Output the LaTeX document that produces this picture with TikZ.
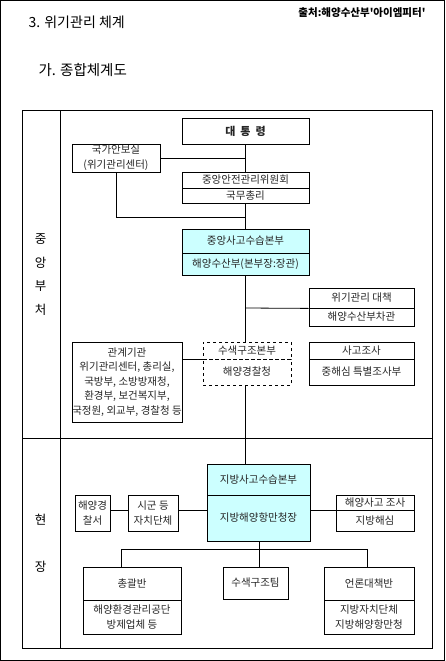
\documentclass[tikz,border=0pt]{standalone}
\usepackage{fontspec}
\newfontfamily\kr{Noto Sans CJK KR}
\usetikzlibrary{calc}
\definecolor{boxcyan}{HTML}{CCFFFF}
\tikzset{
  x=1pt,y=-1pt,
  every node/.style={font=\kr\fontsize{10.5}{12}\selectfont, text=black!85},
  bx/.style={draw=black, line width=0.8pt, inner sep=0pt, align=center},
  cy/.style={bx, fill=boxcyan},
  dbx/.style={bx, dashed},
  ln/.style={line width=0.8pt},
  side/.style={font=\kr\fontsize{12.5}{14}\selectfont, text=black},
}
\begin{document}
\begin{tikzpicture}
\useasboundingbox (0,0) rectangle (445,661);
% frames
\draw[ln] (0.5,0.5) rectangle (444.5,660.5);
\draw[ln] (22,110) rectangle (432,648);
\draw[ln] (60,110) -- (60,648);
\draw[ln] (22,438.7) -- (432,438.7);
% titles
\node[anchor=west, font=\kr\fontsize{14}{16}\selectfont, text=black] (t1) at (25,22.5) {3. 위기관리 체계};
\node[anchor=west, font=\kr\fontsize{14.5}{16}\selectfont, text=black] (t2) at (35,70) {가. 종합체계도};
\node[anchor=east, font=\kr\bfseries\fontsize{10.5}{12}\selectfont, text=black] (src) at (429,12.5) {출처:해양수산부'아이엠피터'};
% side labels
\node[side] (s1) at (40.5,239) {중};
\node[side] (s2) at (40.5,263) {앙};
\node[side] (s3) at (40.5,286) {부};
\node[side] (s4) at (40.5,310) {처};
\node[side] (s5) at (40.5,520) {현};
\node[side] (s6) at (40.5,567) {장};
% central boxes
\node[bx, minimum width=127, minimum height=26, font=\kr\bfseries\fontsize{11}{12}\selectfont] (pres) at (245.5,131) {대\ \ 통\ \ 령};
\node[bx, minimum width=88, minimum height=28, font=\kr\fontsize{10.5}{15}\selectfont] (nsc) at (116,158) {국가안보실\\(위기관리센터)};
\node[bx, minimum width=127, minimum height=16] (cscmT) at (245.5,180) {중앙안전관리위원회};
\node[bx, minimum width=127, minimum height=15] (cscmB) at (245.5,195.5) {국무총리};
\node[cy, minimum width=127, minimum height=24] (cdschT) at (245.5,241) {중앙사고수습본부};
\node[cy, minimum width=127, minimum height=22] (cdschB) at (245.5,264) {해양수산부(본부장:장관)};
\node[bx, minimum width=105, minimum height=20] (crisT) at (361.5,298) {위기관리\ 대책};
\node[bx, minimum width=105, minimum height=18] (crisB) at (361.5,317) {해양수산부차관};
\node[bx, minimum width=110, minimum height=80, font=\kr\fontsize{10.5}{14.4}\selectfont] (rel) at (127,382) {관계기관\\위기관리센터, 총리실,\\국방부, 소방방재청,\\환경부, 보건복지부,\\국정원, 외교부, 경찰청 등};
\node[dbx, minimum width=88, minimum height=17] (sarT) at (247,350.5) {수색구조본부};
\node[dbx, minimum width=88, minimum height=26] (sarB) at (247,372) {해양경찰청};
\node[bx, minimum width=105, minimum height=17] (invT) at (361.5,350.5) {사고조사};
\node[bx, minimum width=105, minimum height=26] (invB) at (361.5,372) {중해심\ 특별조사부};
% field boxes
\node[cy, minimum width=103, minimum height=31] (rdschT) at (258.5,479.5) {지방사고수습본부};
\node[cy, minimum width=103, minimum height=46] (rdschB) at (258.5,518) {지방해양항만청장};
\node[bx, minimum width=35, minimum height=36, font=\kr\fontsize{10.5}{15}\selectfont] (kcg) at (92.5,513) {해양경\\찰서};
\node[bx, minimum width=50, minimum height=36, font=\kr\fontsize{10.5}{15}\selectfont] (local) at (153,513) {시군\ 등\\자치단체};
\node[bx, minimum width=78, minimum height=15] (minvT) at (375,502.5) {해양사고\ 조사};
\node[bx, minimum width=78, minimum height=21] (minvB) at (375,520.5) {지방해심};
\node[bx, minimum width=98, minimum height=33] (genT) at (132,583.5) {총괄반};
\node[bx, minimum width=98, minimum height=34, font=\kr\fontsize{10.5}{14.5}\selectfont] (genB) at (132,617) {해양환경관리공단\\방제업체\ 등};
\node[bx, minimum width=65, minimum height=32] (srt) at (255.5,583) {수색구조팀};
\node[bx, minimum width=90, minimum height=33] (pressT) at (369,583.5) {언론대책반};
\node[bx, minimum width=90, minimum height=34, font=\kr\fontsize{10.5}{14.5}\selectfont] (pressB) at (369,617) {지방자치단체\\지방해양항만청};
% connectors (central)
\coordinate (j1) at (245.5,217);
\coordinate (j2) at (245.5,308);
\coordinate (bL) at (121.7,549);
\coordinate (bM) at (259,549);
\coordinate (bR) at (367.3,549);
\draw[ln] (pres.south) -- (cscmT.north);
\draw[ln] (nsc.east) -- (nsc.east -| pres.south);
\draw[ln] (nsc.south) |- (j1);
\draw[ln] (cscmB.south) -- (cdschT.north);
\draw[ln] (cdschB.south) -- (cdschB.south |- sarT.north);
\draw[ln] (j2) -- (crisT.south west);
\draw[ln] (rel.east |- sarT.south west) -- (sarT.south west);
\draw[ln] (sarB.south -| cdschB.south) -- (cdschB.south |- rdschT.north);
% connectors (field)
\draw[ln] (kcg.east |- minvT.south) -- (local.west |- minvT.south);
\draw[ln] (local.east |- minvT.south) -- (rdschB.west |- minvT.south);
\draw[ln] (rdschB.east |- minvT.south) -- (minvT.south west);
\draw[ln] (rdschB.south -| bM) -- (bM);
\draw[ln] (bL) -- (bR);
\draw[ln] (bL) -- (bL |- genT.north);
\draw[ln] (bM) -- (bM |- srt.north);
\draw[ln] (bR) -- (bR |- pressT.north);
\end{tikzpicture}
\end{document}
